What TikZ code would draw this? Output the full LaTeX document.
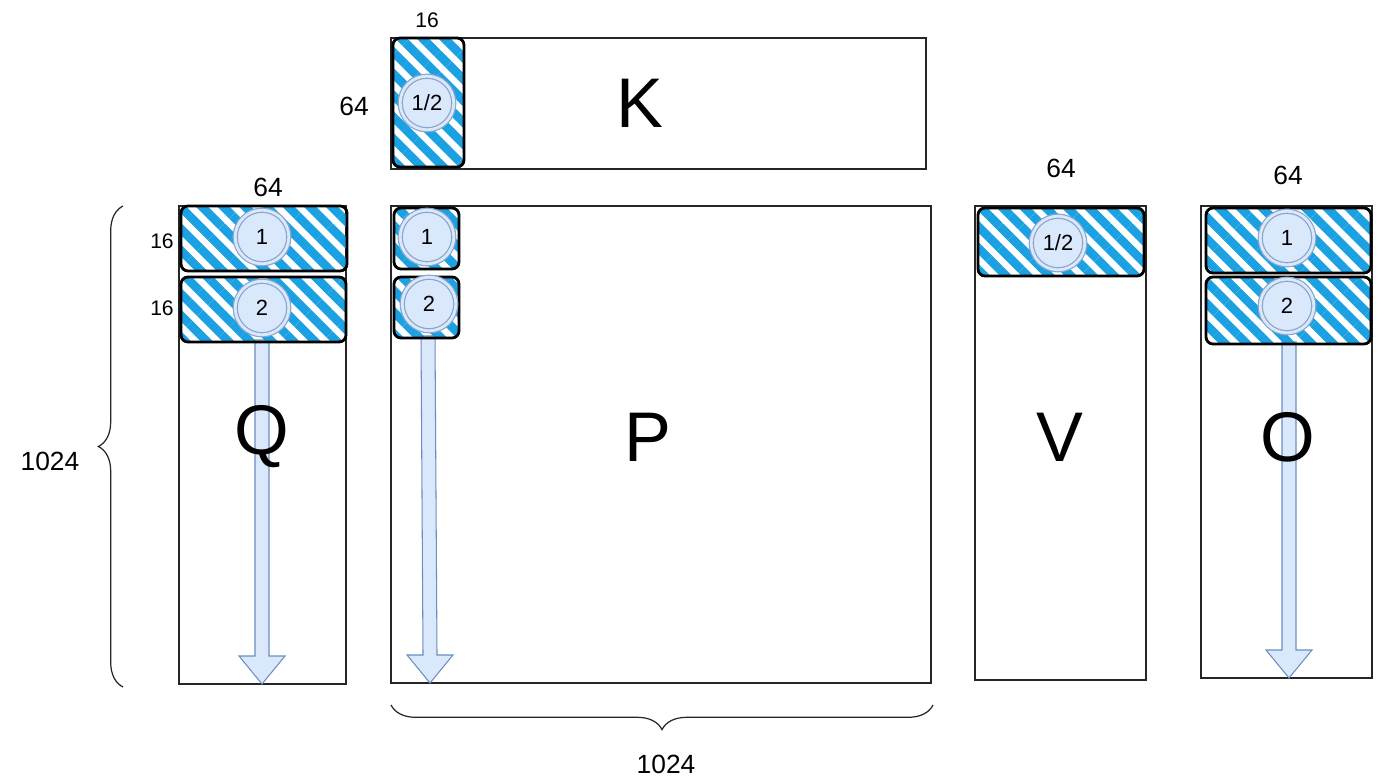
\documentclass[tikz,border=0pt]{standalone}
\usepackage{fontspec}
\setmainfont{Liberation Sans}
\usepackage{tikz}
\usetikzlibrary{fit,positioning,calc,patterns.meta,decorations.pathreplacing}
\definecolor{hatchblue}{HTML}{1BA1E2}
\definecolor{ringfill}{HTML}{DAE8FC}
\definecolor{ringline}{HTML}{6C8EBF}
\tikzstyle{matrixbox}=[rectangle,draw=black!85,line width=0.7pt,inner sep=0pt]
\tikzstyle{tile}=[rectangle,draw=black,line width=1.6pt,rounded corners=4pt,inner sep=0pt,pattern={Lines[angle=-45,distance=8.7pt,line width=4.9pt]},pattern color=hatchblue]
\tikzstyle{ring}=[circle,draw=ringline!80,line width=0.7pt,double=ringfill,double distance=1.6pt,fill=ringfill,minimum size=30.5pt,inner sep=0pt,font=\fontsize{12.5}{12.5}\selectfont]
\tikzstyle{bigletter}=[font=\fontsize{40}{40}\selectfont]
\tikzstyle{dimlabel}=[font=\fontsize{15}{15}\selectfont]
\tikzstyle{smalldim}=[font=\fontsize{12}{12}\selectfont]
\tikzstyle{flow}=[draw=ringline,fill=ringfill,line width=0.6pt,line join=miter]
\tikzstyle{dimbrace}=[decorate,decoration={brace,amplitude=14pt},line width=0.7pt,draw=black!85]
\newcommand{\downflow}[2]{%
  \draw[flow] ($(#1)+(-7,0)$) -- ($(#2)+(-7,-28)$) -- ($(#2)+(-23,-28)$) -- (#2)
    -- ($(#2)+(23,-28)$) -- ($(#2)+(7,-28)$) -- ($(#1)+(7,0)$) -- cycle;}

\begin{document}
\begin{tikzpicture}[x=0.02cm,y=-0.02cm]
        \useasboundingbox (0,0) rectangle (1398,783);

        % K on top
        \node[matrixbox,fit={(391,38)(926,169)}] (K) {};
        \node[bigletter] (klbl) at (640,103) {K};
        \node[dimlabel] (krows) at (354,106) {64};
        \node[smalldim] (kcols) at (427,20) {16};

        % Q, P, V, O
        \node[matrixbox,fit={(179,206)(346,684)}] (Q) {};
        \node[matrixbox,fit={(391,206)(931,683)}] (P) {};
        \node[matrixbox,fit={(975,206)(1146,680)}] (V) {};
        \node[matrixbox,fit={(1201,206)(1372,678)}] (O) {};
        \node[dimlabel] (qcols) at (268,187) {64};
        \node[dimlabel] (vcols) at (1061,168) {64};
        \node[dimlabel] (ocols) at (1288,175) {64};
        \node[smalldim] (qrow1) at (162,241) {16};
        \node[smalldim] (qrow2) at (162,308) {16};

        % sweep arrows
        \coordinate (qend) at (262,684);
        \coordinate (pend) at (430,683);
        \coordinate (oend) at (1289,678);
        \coordinate (qstart) at (262,340);
        \coordinate (pstart) at (428,336);
        \coordinate (ostart) at (1289,342);
        \downflow{qstart}{qend}
        \downflow{pstart}{pend}
        \downflow{ostart}{oend}

        \node[bigletter] (qlbl) at (262,437) {Q};
        \node[bigletter] (plbl) at (648,437) {P};
        \node[bigletter] (vlbl) at (1060,437) {V};
        \node[bigletter] (olbl) at (1288,437) {O};

        % hatched tiles
        \node[tile,fit={(393,38)(464,167)}] (kt) {};
        \node[tile,fit={(181,206)(347,271)}] (q1) {};
        \node[tile,fit={(181,277)(346,342)}] (q2) {};
        \node[tile,fit={(394,208)(459,269)}] (p1) {};
        \node[tile,fit={(394,277)(459,338)}] (p2) {};
        \node[tile,fit={(978,208)(1144,276)}] (vt) {};
        \node[tile,fit={(1206,208)(1371,273)}] (o1) {};
        \node[tile,fit={(1206,277)(1371,344)}] (o2) {};

        \node[ring] (kr) at (427,103) {1/2};
        \node[ring] (qr1) at (262,237) {1};
        \node[ring] (qr2) at (262,308) {2};
        \node[ring] (pr1) at (427,237) {1};
        \node[ring] (pr2) at (429,304) {2};
        \node[ring] (vr) at (1058,243) {1/2};
        \node[ring] (or1) at (1287,238) {1};
        \node[ring] (or2) at (1287,306) {2};

        % braces
        \coordinate (lb1) at (123,687);
        \coordinate (lb2) at (123,206);
        \coordinate (bb1) at (933,705);
        \coordinate (bb2) at (391,705);
        \draw[dimbrace] (lb1) -- (lb2);
        \draw[dimbrace] (bb1) -- (bb2);
        \node[dimlabel] (qrows) at (50,461) {1024};
        \node[dimlabel] (pcols) at (666,764) {1024};
\end{tikzpicture}
\end{document}
